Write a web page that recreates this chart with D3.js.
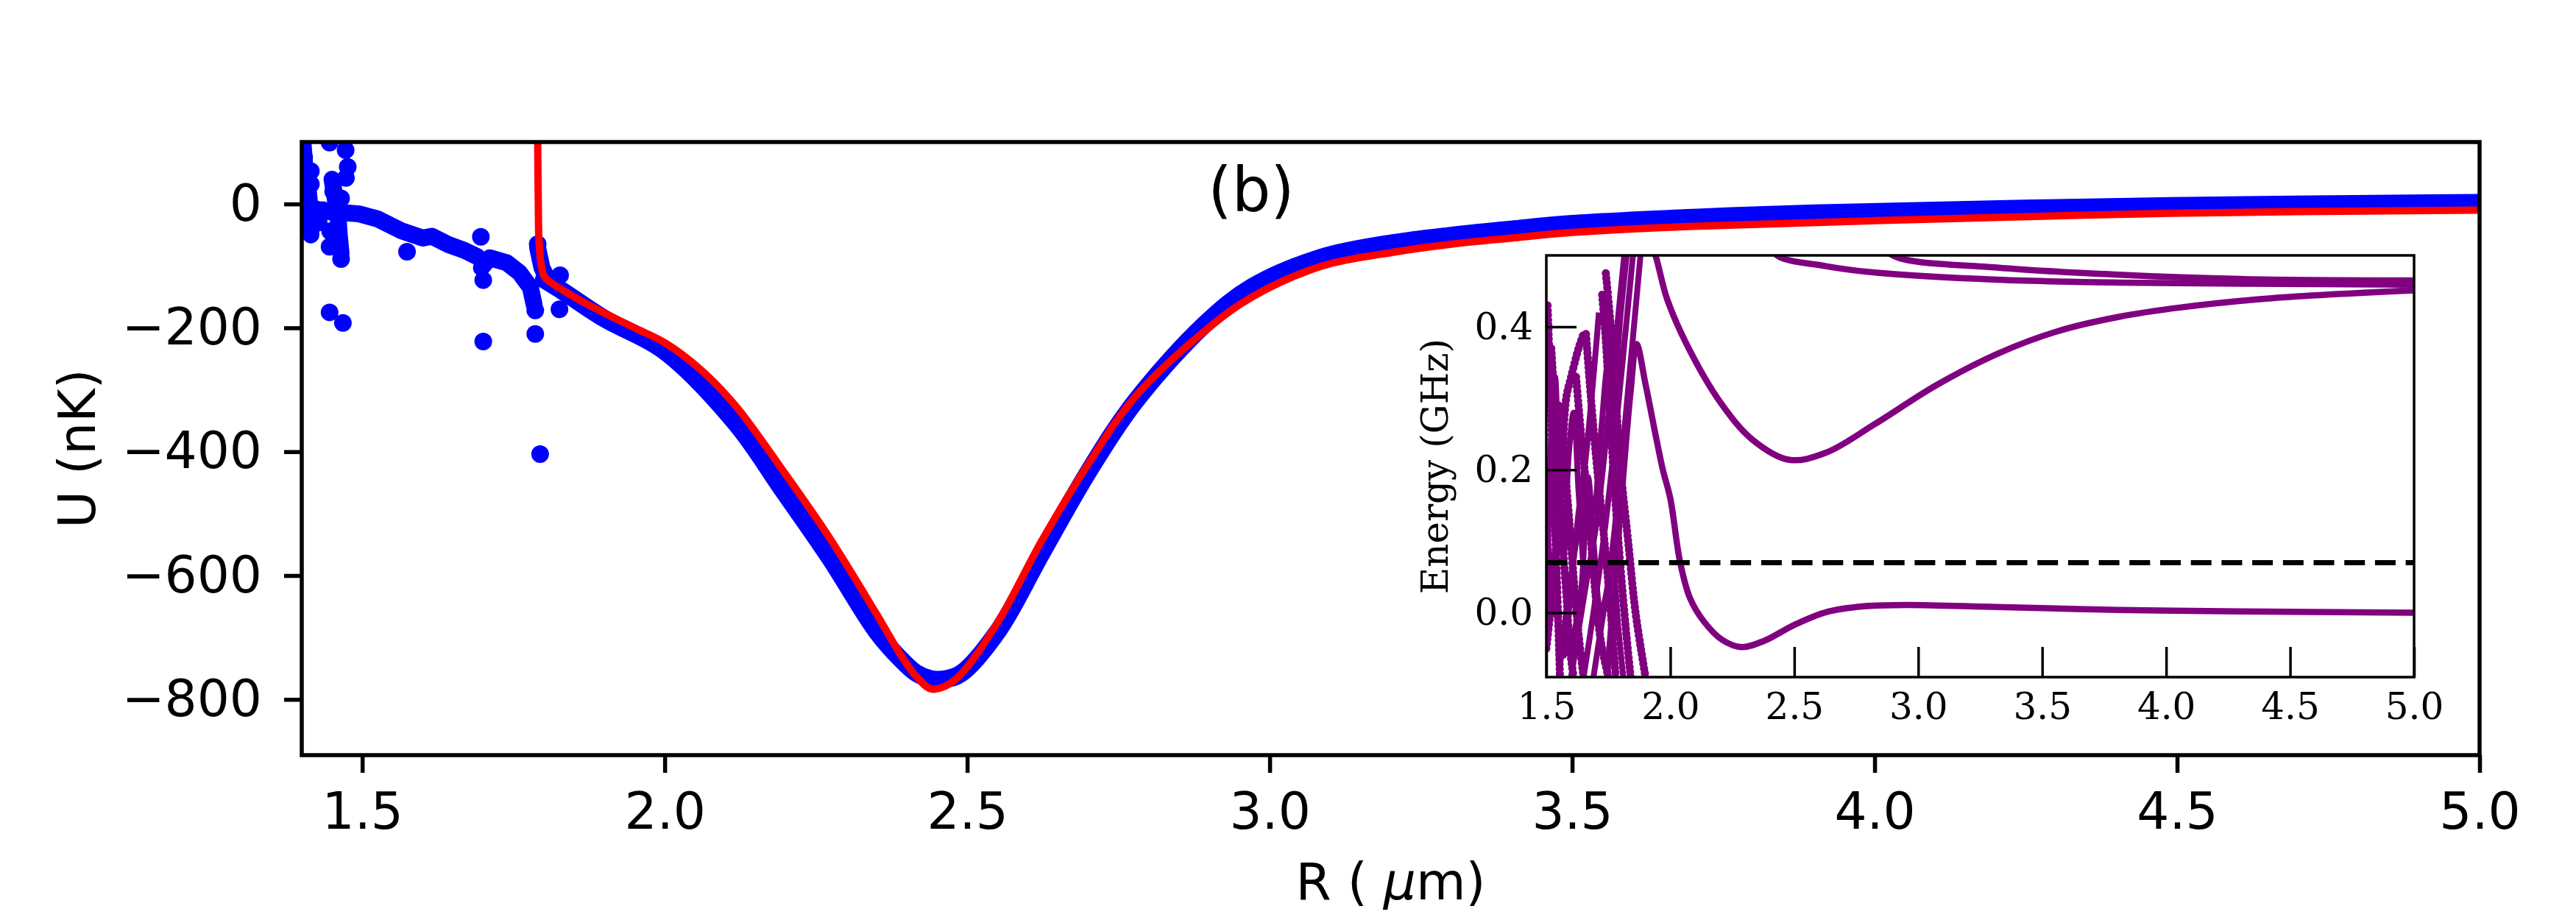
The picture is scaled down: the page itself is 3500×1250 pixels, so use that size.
<!DOCTYPE html>
<html lang="en">
<head>
<meta charset="UTF-8"/>
<title>Potential U(R)</title>
<script src="https://cdn.jsdelivr.net/npm/d3@7"></script>
<style>
  body { margin: 0; background: #fff; }
  text { font-family: "DejaVu Sans", sans-serif; }
  .inset text { font-family: "DejaVu Serif", serif; }
</style>
</head>
<body>
<div id="chart"></div>
<script>
// ---- data ----
// main panel: x ticks, y ticks
var xTicks = [1.5, 2.0, 2.5, 3.0, 3.5, 4.0, 4.5, 5.0];
var yTicks = [0, -200, -400, -600, -800];

// red curve (R in um, U in nK)
var redR = [1.790, 1.791, 1.792, 1.796, 1.802, 1.812, 1.85, 1.90, 1.95, 2.00, 2.06, 2.118, 2.195, 2.273, 2.35, 2.39, 2.415, 2.44, 2.465, 2.49, 2.552, 2.622, 2.70, 2.777, 2.893, 2.971, 3.087, 3.204, 3.30, 3.40, 3.50, 3.70, 4.00, 4.49, 5.0];
var redU = [100, 0, -55, -100, -119, -127, -150, -176, -200, -224, -268, -327, -430, -540, -662, -728, -762, -783, -778, -759, -673, -546, -420, -312, -205, -150, -100, -78, -65, -55, -46, -36, -27, -15, -10];

// blue data, smooth branch (drawn as thick band of markers)
var blueR = [1.80, 1.83, 1.90, 2.00, 2.118, 2.195, 2.273, 2.35, 2.39, 2.415, 2.44, 2.465, 2.49, 2.552, 2.622, 2.70, 2.777, 2.893, 2.971, 3.087, 3.204, 3.30, 3.40, 3.50, 3.70, 3.90, 4.49, 5.0];
var blueU = [-122, -140, -185, -238, -355, -462, -572, -690, -735, -757, -767, -767, -758, -688, -566, -433, -320, -194, -134, -86, -63, -51, -41, -32, -22, -15, -3, 2];

// blue data, noisy short-range trails
var trailA = [[1.402, 100], [1.405, 60], [1.41, 30], [1.413, 0], [1.415, -30], [1.415, -50]];
var trailB = [[1.41, -5], [1.44, -12], [1.47, -14], [1.495, -16], [1.525, -24], [1.564, -43], [1.60, -55], [1.615, -52], [1.641, -65], [1.669, -75], [1.69, -85]];
var trailC = [[1.45, 40], [1.455, 10], [1.46, -20], [1.462, -50], [1.465, -80]];
var trailD = [[1.697, -103], [1.711, -87], [1.739, -95], [1.76, -111], [1.778, -135], [1.784, -162]];
var trailE = [[1.79, -71], [1.797, -103], [1.807, -123], [1.823, -133]];

// blue data, isolated points
var dotR = [1.404, 1.415, 1.415, 1.428, 1.435, 1.446, 1.446, 1.447, 1.452, 1.46, 1.465, 1.465, 1.468, 1.4725, 1.473, 1.476, 1.446, 1.574, 1.696, 1.70, 1.70, 1.786, 1.786, 1.79, 1.794, 1.826, 1.827];
var dotU = [75, 53, 32, -30, -10, -69, 99, -44, 20, -59, -89, 9, -192, 87, 42, 60, -175, -77, -53, -222, -123, -210, -172, -65, -404, -170, -115];

// inset: energy levels (GHz) vs R
var insetXTicks = [1.5, 2.0, 2.5, 3.0, 3.5, 4.0, 4.5, 5.0];
var insetYTicks = [0.0, 0.2, 0.4];
var thresholdE = 0.07;

var levelLow = [[1.745, -0.09], [1.78, 0.06], [1.81, 0.19], [1.84, 0.31], [1.864, 0.376], [1.90, 0.32], [1.94, 0.25], [1.97, 0.20], [2.0, 0.16], [2.04, 0.07], [2.08, 0.02], [2.135, -0.012], [2.21, -0.038], [2.288, -0.048], [2.38, -0.039], [2.50, -0.017], [2.63, 0.001], [2.78, 0.009], [2.95, 0.011], [3.32, 0.008], [3.81, 0.004], [4.30, 0.002], [5.0, 0.0]];
var levelMid = [[1.915, 0.52], [1.94, 0.50], [1.988, 0.438], [2.086, 0.362], [2.209, 0.291], [2.332, 0.242], [2.48, 0.214], [2.628, 0.224], [2.825, 0.264], [3.071, 0.318], [3.317, 0.362], [3.563, 0.394], [3.809, 0.414], [4.055, 0.427], [4.425, 0.440], [5.0, 0.451]];
var levelTopA = [[2.40, 0.52], [2.43, 0.50], [2.627, 0.485], [2.825, 0.476], [3.317, 0.466], [3.809, 0.462], [5.0, 0.459]];
var levelTopB = [[2.85, 0.52], [2.897, 0.50], [3.317, 0.483], [3.809, 0.473], [4.30, 0.467], [5.0, 0.465]];

// tangled short-range levels (solid)
var tangleSolid = [
  [[1.60, -0.09], [1.66, 0.04], [1.70, 0.12], [1.74, 0.24], [1.78, 0.38], [1.82, 0.52]],
  [[1.65, -0.09], [1.69, 0.0], [1.73, 0.10], [1.77, 0.22], [1.81, 0.36], [1.855, 0.52]],
  [[1.69, -0.09], [1.73, 0.0], [1.76, 0.07], [1.80, 0.20], [1.84, 0.35], [1.885, 0.52]],
  [[1.55, -0.09], [1.58, 0.0], [1.62, 0.10], [1.66, 0.19], [1.69, 0.14], [1.72, 0.25], [1.75, 0.35], [1.77, 0.30], [1.80, 0.42], [1.83, 0.52]],
  [[1.60, -0.05], [1.64, 0.03], [1.668, 0.19], [1.69, 0.10], [1.72, 0.0], [1.745, 0.03], [1.768, 0.058], [1.79, -0.02], [1.81, -0.09]],
  [[1.50, 0.12], [1.53, 0.03], [1.57, -0.06], [1.60, 0.04], [1.63, 0.14], [1.66, 0.22], [1.70, 0.37], [1.712, 0.42]],
  [[1.50, -0.02], [1.52, 0.25], [1.535, 0.33], [1.55, 0.20], [1.57, 0.08], [1.59, 0.22], [1.61, 0.28], [1.63, 0.17], [1.65, 0.06]]
];
// tangled short-range levels (marker chains)
var tangleDots = [
  [[1.725, 0.445], [1.74, 0.38], [1.76, 0.26], [1.78, 0.15], [1.80, 0.06], [1.82, -0.02], [1.84, -0.09]],
  [[1.74, 0.475], [1.76, 0.40], [1.78, 0.30], [1.80, 0.20], [1.83, 0.10], [1.86, 0.0], [1.90, -0.09]],
  [[1.62, 0.33], [1.64, 0.25], [1.66, 0.18], [1.68, 0.10], [1.70, 0.02], [1.72, -0.04], [1.75, -0.09]],
  [[1.66, 0.39], [1.68, 0.30], [1.70, 0.22], [1.72, 0.15], [1.74, 0.08], [1.76, 0.0], [1.78, -0.09]],
  [[1.505, 0.43], [1.515, 0.33], [1.525, 0.22], [1.535, 0.12], [1.545, 0.02], [1.555, -0.09]],
  [[1.52, 0.37], [1.535, 0.28], [1.55, 0.18], [1.565, 0.10], [1.58, 0.03], [1.595, -0.05], [1.61, -0.09]],
  [[1.55, 0.29], [1.57, 0.22], [1.59, 0.14], [1.61, 0.05], [1.63, -0.03], [1.65, -0.09]],
  [[1.50, -0.05], [1.53, 0.05], [1.56, 0.18], [1.58, 0.30], [1.60, 0.33], [1.63, 0.37], [1.65, 0.39]]
];

// ---- layout ----
var W = 3500, H = 1250;
var box = {left: 410, right: 3369, top: 193, bottom: 1026};
var ibox = {left: 2101, right: 3280, top: 347, bottom: 920};

var svg = d3.select("#chart").append("svg")
    .attr("width", W)
    .attr("height", H)
    .style("background", "#fff");

var defs = svg.append("defs");
defs.append("clipPath").attr("id", "clipMain")
    .append("rect")
    .attr("x", box.left).attr("y", box.top)
    .attr("width", box.right - box.left).attr("height", box.bottom - box.top);
defs.append("clipPath").attr("id", "clipInset")
    .append("rect")
    .attr("x", ibox.left).attr("y", ibox.top)
    .attr("width", ibox.right - ibox.left).attr("height", ibox.bottom - ibox.top);

// ---- main panel ----
var x = d3.scaleLinear().domain([1.4, 5.0]).range([box.left, box.right]);
var y = d3.scaleLinear().domain([-890, 100]).range([box.bottom, box.top]);

var smooth = d3.line()
    .x(function (d) { return x(d[0]); })
    .y(function (d) { return y(d[1]); })
    .curve(d3.curveCatmullRom.alpha(0.5));
var straight = d3.line()
    .x(function (d) { return x(d[0]); })
    .y(function (d) { return y(d[1]); });

var plot = svg.append("g").attr("clip-path", "url(#clipMain)");

// blue markers
var blueBand = blueR.map(function (r, i) { return [r, blueU[i]]; });
plot.append("path")
    .datum(blueBand)
    .attr("d", smooth)
    .attr("fill", "none")
    .attr("stroke", "#0000ff")
    .attr("stroke-width", 24)
    .attr("stroke-linecap", "round")
    .attr("stroke-linejoin", "round");

plot.selectAll("path.trail")
    .data([trailA, trailB, trailC, trailD, trailE])
    .enter().append("path")
    .attr("class", "trail")
    .attr("d", straight)
    .attr("fill", "none")
    .attr("stroke", "#0000ff")
    .attr("stroke-width", 23)
    .attr("stroke-linecap", "round")
    .attr("stroke-linejoin", "round");

plot.selectAll("circle.dot")
    .data(dotR)
    .enter().append("circle")
    .attr("class", "dot")
    .attr("cx", function (d) { return x(d); })
    .attr("cy", function (d, i) { return y(dotU[i]); })
    .attr("r", 12)
    .attr("fill", "#0000ff");

// red curve
var redLine = redR.map(function (r, i) { return [r, redU[i]]; });
plot.append("path")
    .datum(redLine)
    .attr("d", smooth)
    .attr("fill", "none")
    .attr("stroke", "#ff0000")
    .attr("stroke-width", 10)
    .attr("stroke-linejoin", "round");

// axes
var xAxis = svg.append("g")
    .attr("transform", "translate(0," + box.bottom + ")")
    .call(d3.axisBottom(x).tickValues(xTicks).tickFormat(d3.format(".1f"))
        .tickSize(24).tickSizeOuter(0).tickPadding(27));
var yAxis = svg.append("g")
    .attr("transform", "translate(" + box.left + ",0)")
    .call(d3.axisLeft(y).tickValues(yTicks).tickFormat(d3.format("d"))
        .tickSize(24).tickSizeOuter(0).tickPadding(30));

[xAxis, yAxis].forEach(function (a) {
    a.select(".domain").remove();
    a.selectAll("line").attr("stroke", "#000").attr("stroke-width", 5.5);
    a.selectAll("text")
        .attr("font-family", "DejaVu Sans, sans-serif")
        .attr("font-size", 69.4)
        .attr("fill", "#000");
});

svg.append("rect")
    .attr("x", box.left).attr("y", box.top)
    .attr("width", box.right - box.left).attr("height", box.bottom - box.top)
    .attr("fill", "none")
    .attr("stroke", "#000")
    .attr("stroke-width", 5.5);

// labels
var xl = svg.append("text")
    .attr("x", (box.left + box.right) / 2)
    .attr("y", 1222)
    .attr("text-anchor", "middle")
    .attr("font-size", 69.4);
xl.append("tspan").text("R ( ");
xl.append("tspan").attr("font-style", "italic").text("\u03bc");
xl.append("tspan").text("m)");

svg.append("text")
    .attr("transform", "translate(129," + (box.top + box.bottom) / 2 + ") rotate(-90)")
    .attr("text-anchor", "middle")
    .attr("font-size", 69.4)
    .text("U (nK)");

svg.append("text")
    .attr("x", 1700)
    .attr("y", 287)
    .attr("text-anchor", "middle")
    .attr("font-size", 83)
    .text("(b)");

// ---- inset ----
var inset = svg.append("g").attr("class", "inset");
inset.append("rect")
    .attr("x", ibox.left).attr("y", ibox.top)
    .attr("width", ibox.right - ibox.left).attr("height", ibox.bottom - ibox.top)
    .attr("fill", "#fff");

var ix = d3.scaleLinear().domain([1.5, 5.0]).range([ibox.left, ibox.right]);
var iy = d3.scaleLinear().domain([-0.09, 0.5]).range([ibox.bottom, ibox.top]);
var iline = d3.line()
    .x(function (d) { return ix(d[0]); })
    .y(function (d) { return iy(d[1]); })
    .curve(d3.curveCatmullRom.alpha(0.5));

var iplot = inset.append("g").attr("clip-path", "url(#clipInset)");

iplot.selectAll("path.chain")
    .data(tangleDots)
    .enter().append("path")
    .attr("class", "chain")
    .attr("d", iline)
    .attr("fill", "none")
    .attr("stroke", "#800080")
    .attr("stroke-width", 11)
    .attr("stroke-linecap", "round")
    .attr("stroke-dasharray", "0.5,6");

iplot.selectAll("path.tangle")
    .data(tangleSolid)
    .enter().append("path")
    .attr("class", "tangle")
    .attr("d", iline)
    .attr("fill", "none")
    .attr("stroke", "#800080")
    .attr("stroke-width", 8)
    .attr("stroke-linejoin", "round");

iplot.selectAll("path.level")
    .data([levelLow, levelMid, levelTopA, levelTopB])
    .enter().append("path")
    .attr("class", "level")
    .attr("d", iline)
    .attr("fill", "none")
    .attr("stroke", "#800080")
    .attr("stroke-width", 8.5);

iplot.append("line")
    .attr("x1", ix(1.5)).attr("x2", ix(5.0))
    .attr("y1", iy(thresholdE)).attr("y2", iy(thresholdE))
    .attr("stroke", "#000")
    .attr("stroke-width", 7)
    .attr("stroke-dasharray", "28,13.7");

var ixAxis = inset.append("g")
    .attr("transform", "translate(0," + ibox.bottom + ")")
    .call(d3.axisBottom(ix).tickValues(insetXTicks).tickFormat(d3.format(".1f"))
        .tickSize(-41).tickSizeOuter(0).tickPadding(0));
ixAxis.selectAll("text").attr("y", 57).attr("dy", null);

var iyAxis = inset.append("g")
    .attr("transform", "translate(" + ibox.left + ",0)")
    .call(d3.axisLeft(iy).tickValues(insetYTicks).tickFormat(d3.format(".1f"))
        .tickSize(-41).tickSizeOuter(0).tickPadding(0));
iyAxis.selectAll("text").attr("x", -18);

[ixAxis, iyAxis].forEach(function (a) {
    a.select(".domain").remove();
    a.selectAll("line").attr("stroke", "#000").attr("stroke-width", 3.5);
    a.selectAll("text")
        .attr("font-family", "DejaVu Serif, serif")
        .attr("font-size", 50)
        .attr("fill", "#000");
});

inset.append("rect")
    .attr("x", ibox.left).attr("y", ibox.top)
    .attr("width", ibox.right - ibox.left).attr("height", ibox.bottom - ibox.top)
    .attr("fill", "none")
    .attr("stroke", "#000")
    .attr("stroke-width", 3.5);

inset.append("text")
    .attr("transform", "translate(1967," + (ibox.top + ibox.bottom) / 2 + ") rotate(-90)")
    .attr("text-anchor", "middle")
    .attr("font-size", 50)
    .text("Energy (GHz)");
</script>
</body>
</html>
